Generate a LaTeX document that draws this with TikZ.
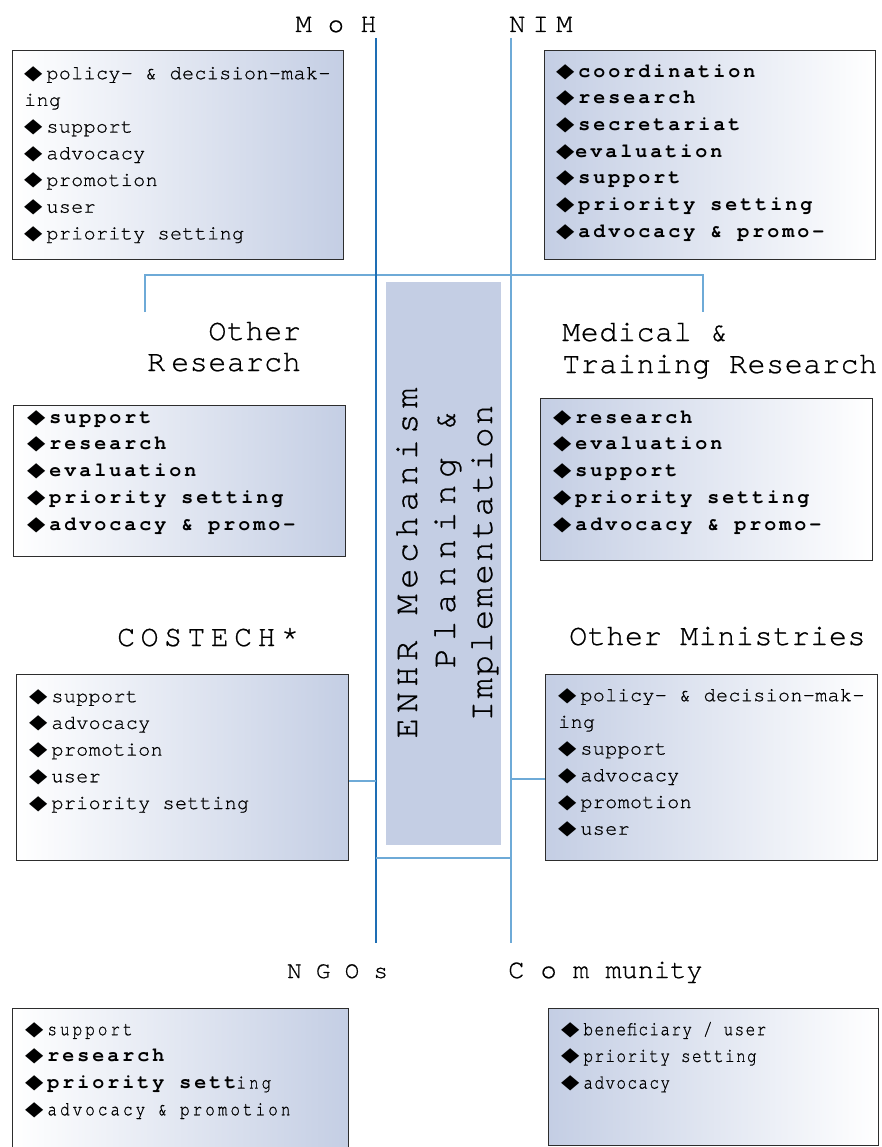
\documentclass[tikz,border=0pt]{standalone}
\usepackage{fontspec}
% Courier-style typewriter faces in several letter spacings
\newfontfamily\monoitem{texgyrecursor}[Extension=.otf,UprightFont=*-regular,BoldFont=*-bold,LetterSpace=2,FakeBold=0.7]
\newfontfamily\monobold{texgyrecursor}[Extension=.otf,UprightFont=*-regular,BoldFont=*-bold,LetterSpace=15]
\newfontfamily\monolabel{texgyrecursor}[Extension=.otf,UprightFont=*-regular,BoldFont=*-bold,LetterSpace=2,FakeBold=0.7]
\newfontfamily\monowide{texgyrecursor}[Extension=.otf,UprightFont=*-regular,BoldFont=*-bold,LetterSpace=18,FakeBold=0.7]
\newfontfamily\monoplain{texgyrecursor}[Extension=.otf,UprightFont=*-regular,BoldFont=*-bold,FakeBold=0.7]
\newfontfamily\mononarrow{texgyrecursor}[Extension=.otf,UprightFont=*-regular,BoldFont=*-bold,FakeStretch=0.8,LetterSpace=7,FakeBold=0.7]
\newfontfamily\mononarrowwide{texgyrecursor}[Extension=.otf,UprightFont=*-regular,BoldFont=*-bold,FakeStretch=0.8,LetterSpace=15,FakeBold=0.7]
\newfontfamily\symfont{DejaVu Sans}

\definecolor{boxblue}{RGB}{196,206,228}
\definecolor{linedark}{RGB}{30,110,180}
\definecolor{linelight}{RGB}{110,170,215}
\definecolor{boxedge}{RGB}{45,45,45}

% diamond bullet, with and without a gap after it
\newcommand\dia{\rule{0pt}{15pt}{\symfont\fontsize{19}{19}\selectfont\scalebox{1.25}[1.05]{◆}}\hspace{4pt}}
\newcommand\diat{\rule{0pt}{15pt}{\symfont\fontsize{19}{19}\selectfont\scalebox{1.25}[1.05]{◆}}\hspace{1pt}}

\tikzset{
  panelfade/.style 2 args={draw=boxedge, line width=1.3pt, left color=white, right color=boxblue,
    anchor=north west, inner sep=0pt, minimum width=#1, minimum height=#2},
  panelrise/.style 2 args={draw=boxedge, line width=1.3pt, left color=boxblue, right color=white,
    anchor=north west, inner sep=0pt, minimum width=#1, minimum height=#2},
  plainlist/.style={anchor=north west, inner sep=0pt, align=left,
    font=\monoitem\fontsize{20}{26.7}\selectfont},
  boldlist/.style={anchor=north west, inner sep=0pt, align=left,
    font=\monobold\bfseries\fontsize{20}{26.7}\selectfont},
  ngolist/.style={anchor=north west, inner sep=0pt, align=left,
    font=\mononarrowwide\fontsize{20}{26.7}\selectfont},
  narrowlist/.style={anchor=north west, inner sep=0pt, align=left,
    font=\mononarrow\fontsize{20}{26.7}\selectfont},
  headlabel/.style={inner sep=0pt, font=\monolabel\fontsize{30}{34}\selectfont},
  toplabel/.style={inner sep=0pt, anchor=base, font=\monoplain\fontsize{27}{30}\selectfont},
  centretext/.style={inner sep=0pt, anchor=base, rotate=90, font=\monoplain\fontsize{34}{36}\selectfont},
  darkline/.style={draw=linedark, line width=1.1pt},
  lightline/.style={draw=linelight, line width=1.6pt},
}

\begin{document}
\begin{tikzpicture}[x=1pt,y=-1pt]
\useasboundingbox (0,0) rectangle (882,1147);
\fill[white] (0,0) rectangle (882,1147);

% ---- trunk lines and junctions ----
\coordinate (vLtop) at (376,38);
\coordinate (vLbot) at (376,943);
\coordinate (vRtop) at (511,38);
\coordinate (vRbot) at (511,943);
\coordinate (hbarL) at (145,275);
\coordinate (hbarR) at (703,275);
\coordinate (hLend) at (145,312);
\coordinate (hRend) at (703,312);
\coordinate (jL) at (376,781);
\coordinate (jR) at (511,779);
\coordinate (bb) at (376,858);

% ---- panels ----
\node[panelfade={331}{209}] (mohbox) at (12,50) {};
\node[panelrise={331}{209}] (nimbox) at (544,50) {};
\node[panelfade={332}{151}] (orbox) at (13,405) {};
\node[panelrise={332}{162}] (mtrbox) at (540,398) {};
\node[panelfade={332}{186}] (costechbox) at (16,674) {};
\node[panelrise={332}{186}] (minbox) at (545,674) {};
\node[panelfade={336}{150}] (ngobox) at (12,1008) {};
\node[panelrise={330}{137}] (combox) at (548,1008) {};

% central block
\node[fill=boxblue, anchor=north west, inner sep=0pt, minimum width=115, minimum height=563] (enhr) at (386,282) {};

% ---- connectors ----
\draw[lightline] (hLend) -- (hbarL) -- (hbarR) -- (hRend);
\draw[lightline] (vRtop) -- (vRbot);
\draw[darkline] (vLtop) -- (vLbot);
\draw[lightline] (costechbox.east |- jL) -- (jL);
\draw[lightline] (jR) -- (jR -| minbox.west);
\draw[lightline] (bb) -- (bb -| vRtop);

% ---- central text ----
\node[centretext] (enhrA) at (417,563) {\addfontfeature{LetterSpace=16}ENHR Mechanism};
\node[centretext] (enhrB) at (455,539) {\addfontfeature{LetterSpace=20}Planning \&};
\node[centretext] (enhrC) at (492,563) {\addfontfeature{LetterSpace=7}Implementation};

% ---- headings ----
\node[toplabel] (mohlabel) at (336,32) {M o H};
\node[toplabel, anchor=base west] (nimlabel) at (509,32) {\addfontfeature{LetterSpace=27}NIM};
\node[headlabel, anchor=base east] (orlabelA) at (301,340) {Other};
\node[headlabel, anchor=base east] (orlabelB) at (301,371) {R\kern6pt esearch};
\node[headlabel, anchor=base west] (mtrlabelA) at (562,341) {Medical \&};
\node[headlabel, anchor=base west] (mtrlabelB) at (562,373) {Training Research};
\node[inner sep=0pt, anchor=base west, font=\monowide\fontsize{30}{34}\selectfont] (costechlabel) at (117,646) {COSTECH*};
\node[headlabel, anchor=base west] (minlabel) at (569,645) {Other Ministries};
\node[toplabel, anchor=base west, font=\monoplain\fontsize{24}{28}\selectfont] (ngolabel) at (287,978) {N G O s};
\node[toplabel, anchor=base west] (comlabel) at (508,978) {C o m munity};

% ---- panel contents ----
\node[plainlist] (mohlist) at (24,64)
  {\dia policy- \& decision-mak-\\ing\\\dia support\\\dia advocacy\\\dia promotion\\\dia user\\\dia priority setting};
\node[boldlist] (nimlist) at (556,62)
  {\dia coordination\\\dia research\\\dia secretariat\\\diat evaluation\\\dia support\\\dia priority setting\\\dia advocacy \& promo-};
\node[boldlist] (orlist) at (27,408)
  {\dia support\\\dia research\\\dia evaluation\\\dia priority setting\\\dia advocacy \& promo-};
\node[boldlist] (mtrlist) at (553,408)
  {\dia research\\\dia evaluation\\\dia support\\\dia priority setting\\\dia advocacy \& promo-};
\node[plainlist] (costechlist) at (29,687)
  {\dia support\\\dia advocacy\\\dia promotion\\\dia user\\\dia priority setting};
\node[plainlist] (minlist) at (558,686)
  {\dia policy- \& decision-mak-\\ing\\\dia support\\\dia advocacy\\\dia promotion\\\dia user};
\node[ngolist] (ngolist) at (25,1020)
  {\dia support\\\dia{\monobold\bfseries research}\\\dia{\monobold\bfseries priority sett}ing\\\dia advocacy \& promotion};
\node[narrowlist] (comlist) at (561,1020)
  {\dia beneficiary / user\\\dia priority setting\\\dia advocacy};
\end{tikzpicture}
\end{document}
